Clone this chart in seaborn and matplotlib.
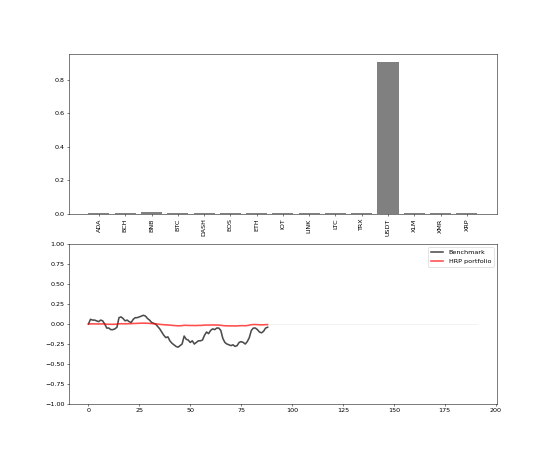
import matplotlib
matplotlib.use("Agg")
import matplotlib.pyplot as plt
import seaborn as sns

# weights per asset
assets = ["ADA", "BCH", "BNB", "BTC", "DASH", "EOS", "ETH", "IOT", "LINK",
          "LTC", "TRX", "USDT", "XLM", "XMR", "XRP"]
weights = [0.005, 0.004, 0.014, 0.007, 0.004, 0.005, 0.005, 0.004, 0.004,
           0.005, 0.004, 0.905, 0.004, 0.004, 0.008]

# cumulative returns
benchmark = [0.00, 0.06, 0.05, 0.05, 0.04, 0.03, 0.05, 0.04, 0.00, -0.05,
             -0.05, -0.07, -0.07, -0.06, -0.04, 0.08, 0.09, 0.07, 0.04, 0.05,
             0.03, 0.02, 0.06, 0.08, 0.08, 0.09, 0.10, 0.11, 0.10, 0.07,
             0.05, 0.02, 0.01, 0.00, -0.03, -0.06, -0.10, -0.14, -0.17, -0.16,
             -0.21, -0.24, -0.26, -0.28, -0.29, -0.27, -0.25, -0.15, -0.19, -0.20,
             -0.23, -0.21, -0.25, -0.23, -0.21, -0.21, -0.20, -0.14, -0.10, -0.12,
             -0.08, -0.06, -0.07, -0.05, -0.05, -0.08, -0.18, -0.23, -0.25, -0.26,
             -0.27, -0.26, -0.28, -0.27, -0.23, -0.22, -0.23, -0.25, -0.22, -0.17,
             -0.08, -0.05, -0.05, -0.07, -0.10, -0.11, -0.09, -0.05, -0.04]
hrp = [0.000, 0.002, 0.003, 0.002, 0.002, 0.001, 0.002, 0.002, 0.000, -0.002,
       -0.003, -0.003, -0.003, -0.002, -0.001, 0.003, 0.004, 0.004, 0.003, 0.004,
       0.004, 0.005, 0.007, 0.008, 0.009, 0.010, 0.011, 0.012, 0.011, 0.010,
       0.008, 0.006, 0.004, 0.002, 0.000, -0.003, -0.006, -0.008, -0.010, -0.011,
       -0.013, -0.016, -0.018, -0.020, -0.022, -0.021, -0.020, -0.015, -0.016, -0.017,
       -0.018, -0.017, -0.019, -0.018, -0.017, -0.017, -0.016, -0.013, -0.012, -0.013,
       -0.012, -0.011, -0.012, -0.012, -0.013, -0.015, -0.019, -0.021, -0.022, -0.023,
       -0.023, -0.023, -0.024, -0.023, -0.021, -0.020, -0.020, -0.021, -0.019, -0.014,
       -0.008, -0.006, -0.006, -0.007, -0.009, -0.010, -0.009, -0.007, -0.007]
days = list(range(len(benchmark)))

# faint flat tail drawn beyond the series
tail_x = [len(benchmark), 191]
tail_y = [0.0, 0.0]

fig, (ax1, ax2) = plt.subplots(2, 1, figsize=(12, 10), dpi=46)
fig.subplots_adjust(left=0.125, right=0.9, top=0.882, bottom=0.122, hspace=0.19)

# --- top: weights ---
sns.barplot(x=assets, y=weights, color="grey", saturation=1, width=0.8, ax=ax1)
ax1.set_xlim(-1.14, 15.14)
ax1.set_ylim(0, max(weights) * 1.05)
ax1.tick_params(axis="x", rotation=90)
ax1.set_xlabel("")
ax1.set_ylabel("")

# --- bottom: cumulative returns ---
sns.lineplot(x=tail_x, y=tail_y, color="#f2f2f2", linewidth=1.5, ax=ax2)
sns.lineplot(x=days, y=benchmark, color="black", alpha=0.7, linewidth=2.5,
             label="Benchmark", ax=ax2)
sns.lineplot(x=days, y=hrp, color="red", alpha=0.7, linewidth=2.5,
             label="HRP portfolio", ax=ax2)
ax2.set_xlim(-9.55, 200.55)
ax2.set_ylim(-1, 1)
ax2.legend(loc="upper right")

fig.savefig("out.png", dpi=46)
